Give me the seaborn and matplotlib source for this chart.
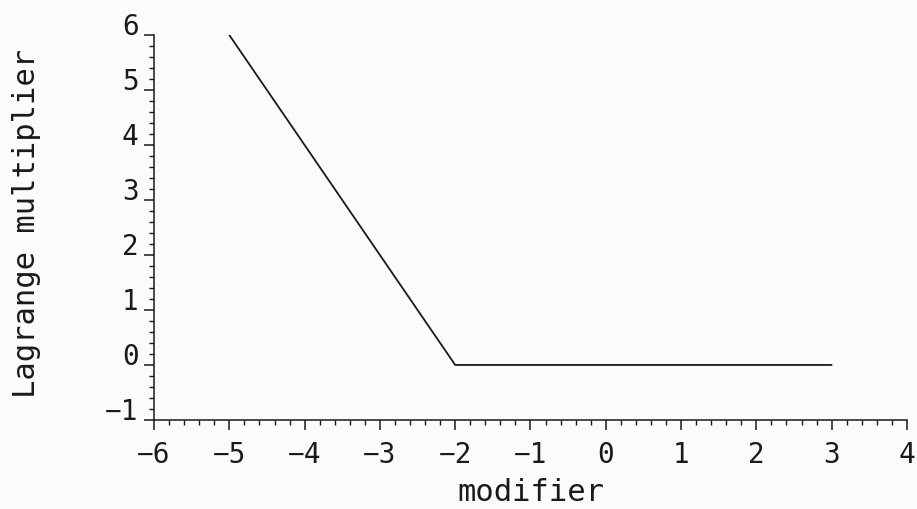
import matplotlib
matplotlib.use("Agg")
import matplotlib.pyplot as plt
from matplotlib.ticker import MultipleLocator
import seaborn as sns

# line
modifier = [-5, -2, 3]
multiplier = [6, 0, 0]

sns.set_style("ticks")
plt.rcParams['font.family'] = ['DejaVu Sans Mono', 'DejaVu Sans']

fig = plt.figure(figsize=(9.17, 5.09), dpi=100, facecolor='#fbfbfb')
ax = fig.add_axes([0.168, 0.175, 0.821, 0.756])
ax.set_facecolor('#fbfbfb')

sns.lineplot(x=modifier, y=multiplier, ax=ax, color='#1a1a1a', linewidth=1.3, sort=False)

ax.set_xlim(-6, 4)
ax.set_ylim(-1, 6)
ax.xaxis.set_major_locator(MultipleLocator(1))
ax.xaxis.set_minor_locator(MultipleLocator(0.2))
ax.yaxis.set_major_locator(MultipleLocator(1))
ax.yaxis.set_minor_locator(MultipleLocator(0.2))

for s in ['top', 'right']:
    ax.spines[s].set_visible(False)
for s in ['left', 'bottom']:
    ax.spines[s].set_linewidth(1.1)
    ax.spines[s].set_color('#1a1a1a')

ax.tick_params(which='major', direction='out', length=7, width=1.1, colors='#1a1a1a', labelsize=20)
ax.tick_params(which='minor', direction='out', length=3.5, width=1.0, colors='#1a1a1a')
ax.tick_params(axis='x', which='major', pad=8)
ax.tick_params(axis='y', which='major', pad=4)
for lab in ax.get_yticklabels():
    lab.set_verticalalignment('baseline')

ax.set_xlabel('modifier', fontsize=22, color='#1a1a1a')
ax.set_ylabel('Lagrange multiplier', fontsize=22, color='#1a1a1a')
ax.xaxis.set_label_coords(0.5, -0.15)
ax.yaxis.set_label_coords(-0.15, 0.51)

fig.savefig('out.png', dpi=100, facecolor=fig.get_facecolor())
